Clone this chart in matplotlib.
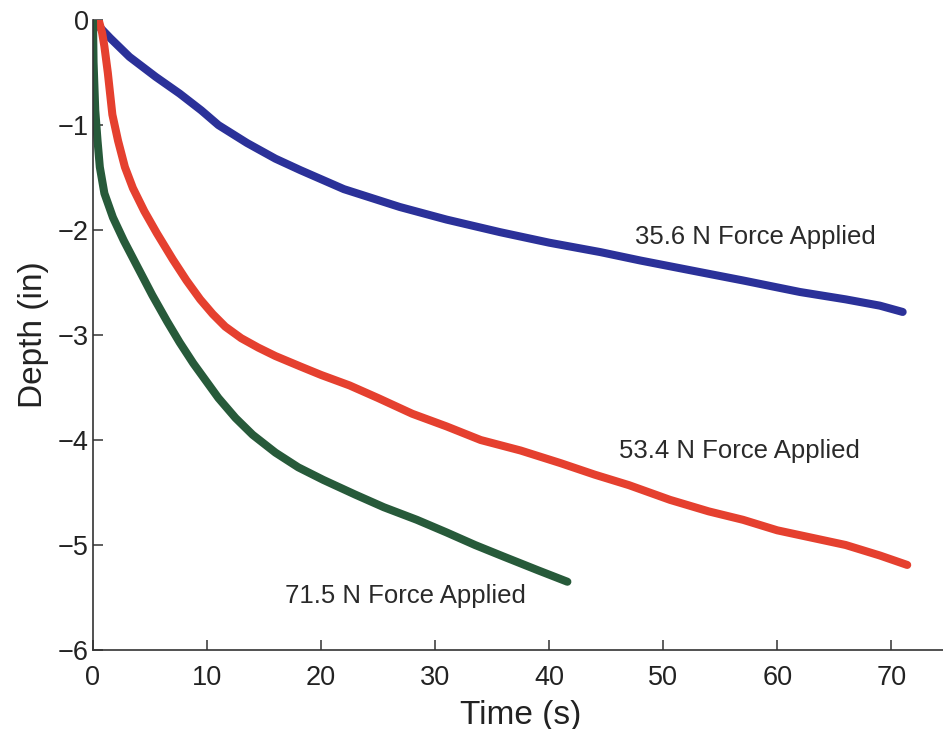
import matplotlib
matplotlib.use("Agg")
import matplotlib.pyplot as plt

# values
t_356 = [0, 1.5, 3.2, 5.5, 7.6, 9.5, 11, 13.5, 16, 18.2, 22, 26.9, 31, 35.7, 40,
         44.5, 48, 53.2, 57, 62, 66, 69, 71]
d_356 = [0, -0.17, -0.35, -0.54, -0.70, -0.86, -1.0, -1.17, -1.32, -1.43, -1.61,
         -1.78, -1.9, -2.02, -2.12, -2.21, -2.29, -2.4, -2.48, -2.59, -2.66, -2.72, -2.78]

t_534 = [0.5, 0.8, 1.0, 1.3, 1.7, 2.2, 2.8, 3.5, 4.5, 5.6, 7, 8.2, 9.4, 10.5, 11.6,
         13, 14.5, 16, 18.2, 20, 22.5, 25, 28, 31, 34, 37.5, 41, 44, 47, 50.6, 54,
         57, 60, 63, 66, 69, 71.4]
d_534 = [0, -0.12, -0.25, -0.5, -0.9, -1.15, -1.4, -1.6, -1.82, -2.03, -2.28, -2.48,
         -2.66, -2.8, -2.92, -3.03, -3.12, -3.2, -3.3, -3.38, -3.48, -3.6, -3.75, -3.87,
         -4.0, -4.1, -4.22, -4.33, -4.43, -4.57, -4.68, -4.76, -4.86, -4.93, -5.0,
         -5.1, -5.19]

t_715 = [0, 0.05, 0.2, 0.4, 0.6, 1.0, 1.75, 2.7, 3.9, 5.2, 6.5, 7.6, 8.8, 10, 11,
         12.5, 14, 16, 18, 20.2, 23, 25.5, 28.4, 31, 33.5, 36, 39, 41.6]
d_715 = [0, -0.4, -0.86, -1.15, -1.4, -1.65, -1.88, -2.1, -2.35, -2.62, -2.87, -3.07,
         -3.27, -3.45, -3.6, -3.79, -3.95, -4.12, -4.26, -4.38, -4.52, -4.64, -4.76,
         -4.88, -5.0, -5.11, -5.24, -5.35]

labels = ["35.6 N Force Applied", "53.4 N Force Applied", "71.5 N Force Applied"]
xticks = [0, 10, 20, 30, 40, 50, 60, 70]
yticks = [0, -1, -2, -3, -4, -5, -6]

plt.rcParams['font.family'] = ['Liberation Sans', 'DejaVu Sans']

fig = plt.figure(figsize=(9.43, 7.29), dpi=100)
ax = fig.add_axes([0.0986, 0.1084, 0.907, 0.864])

lw = 5.8
style = dict(lw=lw, solid_capstyle='round', solid_joinstyle='round')
ax.plot(t_356, d_356, color='#2b3199', **style)
ax.plot(t_534, d_534, color='#e5402f', **style)
ax.plot(t_715, d_715, color='#275a3a', **style)

ax.text(47.5, -2.07, labels[0], fontsize=18.5, color='#2a2a2a', va='center', ha='left')
ax.text(46.1, -4.1, labels[1], fontsize=18.5, color='#2a2a2a', va='center', ha='left')
ax.text(16.8, -5.49, labels[2], fontsize=18.5, color='#2a2a2a', va='center', ha='left')

ax.set_xlim(0, 75)
ax.set_ylim(-6, 0)
ax.set_xticks(xticks)
ax.set_yticks(yticks)
ax.tick_params(direction='in', length=7, width=1.1, colors='#333333',
               labelsize=19.5, labelcolor='#222222')
ax.tick_params(axis='x', pad=11)
ax.tick_params(axis='y', pad=3)

for side in ['top', 'right']:
    ax.spines[side].set_visible(False)
for side in ['left', 'bottom']:
    ax.spines[side].set_color('#333333')
    ax.spines[side].set_linewidth(1.2)

ax.set_xlabel("Time (s)", fontsize=24, color='#222222', labelpad=6)
ax.set_ylabel("Depth (in)", fontsize=24, color='#222222', labelpad=6)

fig.savefig("out.png", dpi=100)
